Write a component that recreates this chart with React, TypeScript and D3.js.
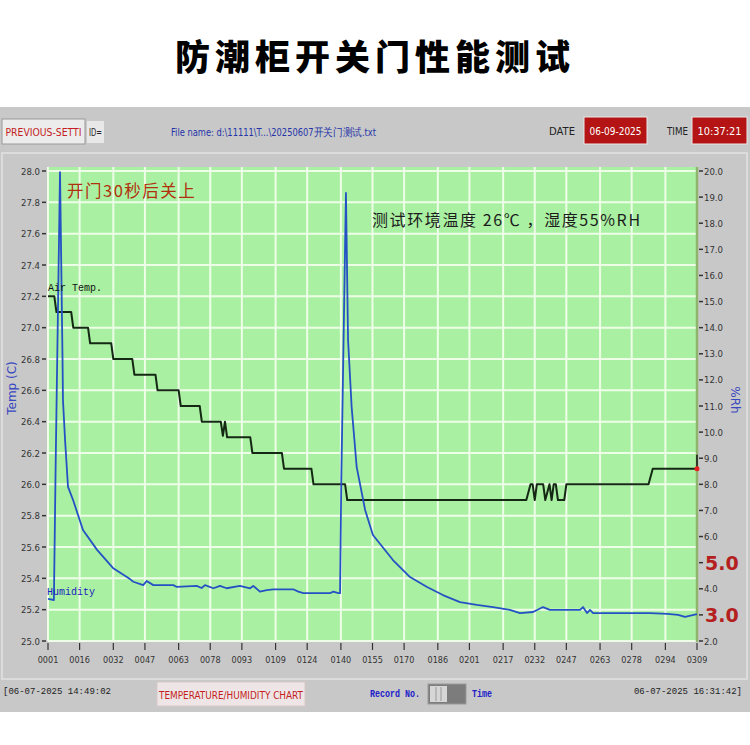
import React from "react";
import * as d3 from "d3";

// ---------- data ----------
const title = "防潮柜开关门性能测试";
const xTickRecords = [1, 16, 32, 47, 63, 78, 93, 109, 124, 140, 155, 170, 186, 201, 217, 232, 247, 263, 278, 294, 309];
const leftTicks = [25.0, 25.2, 25.4, 25.6, 25.8, 26.0, 26.2, 26.4, 26.6, 26.8, 27.0, 27.2, 27.4, 27.6, 27.8, 28.0];
const rightTicks = [2, 3, 4, 5, 6, 7, 8, 9, 10, 11, 12, 13, 14, 15, 16, 17, 18, 19, 20];
const rightHighlight = [5, 3];

// Air temperature (°C): record no. / value
const tempRecords = [1, 4, 5, 12, 13, 20, 21, 31, 32, 41, 42, 52, 53, 63, 64, 73, 74, 83, 84, 85, 86, 97, 98, 112, 113, 126, 127, 142, 143, 228, 230, 231, 232, 233, 236, 237, 239, 240, 241, 242, 243, 246, 247, 286, 288, 309];
const tempValues = [27.2, 27.2, 27.1, 27.1, 27.0, 27.0, 26.9, 26.9, 26.8, 26.8, 26.7, 26.7, 26.6, 26.6, 26.5, 26.5, 26.4, 26.4, 26.31, 26.4, 26.3, 26.3, 26.2, 26.2, 26.1, 26.1, 26.0, 26.0, 25.9, 25.9, 26.0, 26.0, 25.9, 26.0, 26.0, 25.9, 26.0, 25.9, 26.0, 26.0, 25.9, 25.9, 26.0, 26.0, 26.1, 26.1];

// Humidity (%RH): record no. / value
const humRecords = [1, 3.8, 4.6, 6.7, 7.9, 8.1, 9.1, 10.5, 12.9, 17.6, 24.3, 31.8, 39.9, 41.5, 46.2, 47.8, 51, 60.5, 62.1, 71.6, 73.9, 75.5, 79.5, 82.6, 85.8, 92.1, 96.9, 98.4, 101.6, 104.8, 107.9, 117.4, 119.8, 122.2, 134.8, 136.4, 138.8, 139.6, 140.2, 142.4, 143.4, 145.1, 147.5, 151.5, 155.2, 164.7, 172.8, 180.9, 188.4, 196.5, 204.5, 212.2, 220.2, 225, 231.2, 235.9, 239.2, 253.5, 254.9, 256.8, 258.2, 259.7, 286.7, 295, 300, 303.3, 309];
const humValues = [3.61, 3.57, 8.55, 19.96, 12.76, 11.23, 9.7, 7.9, 7.4, 6.25, 5.49, 4.8, 4.37, 4.27, 4.14, 4.3, 4.14, 4.14, 4.07, 4.11, 4.03, 4.14, 4.02, 4.11, 4.02, 4.11, 4.02, 4.11, 3.89, 3.95, 3.98, 3.98, 3.89, 3.83, 3.83, 3.89, 3.83, 3.83, 8.2, 19.16, 13.53, 10.96, 8.66, 7.02, 6.06, 5.1, 4.45, 4.07, 3.76, 3.49, 3.38, 3.3, 3.19, 3.07, 3.11, 3.3, 3.19, 3.19, 3.3, 3.07, 3.19, 3.07, 3.07, 3.04, 3.0, 2.92, 3.03];

// ---------- layout ----------
const X0 = 48, X1 = 697, YT = 171, YB = 641;
const condensed = "'DejaVu Sans Condensed', 'Liberation Sans Narrow', 'Arial Narrow', 'DejaVu Sans', sans-serif";
const mono = "'Liberation Mono', 'DejaVu Sans Mono', monospace";
const cjk = "'Noto Sans CJK SC', 'Noto Sans', sans-serif";

export default function App() {
  const x = d3.scaleLinear().domain([1, 309]).range([X0, X1]);
  const yL = d3.scaleLinear().domain([25, 28]).range([YB, YT]);
  const yR = d3.scaleLinear().domain([2, 20]).range([YB, YT]);

  const tempLine = d3.line<number>().x((_, i) => x(tempRecords[i])).y((v) => yL(v))(tempValues) || "";
  const humLine = d3.line<number>().x((_, i) => x(humRecords[i])).y((v) => yR(v))(humValues) || "";

  const lastT = tempValues[tempValues.length - 1];

  return (
    <svg width={750} height={745} style={{ position: "absolute", left: 0, top: 0, background: "#fff" }}>
      {/* title */}
      <text x={375} y={70} textAnchor="middle" fontFamily={cjk} fontWeight={900} fontSize={35} letterSpacing={5} fill="#000">{title}</text>

      {/* panel */}
      <rect x={0} y={107} width={750} height={605} fill="#c8c8c8" />
      <rect x={2} y={153} width={745} height={526} fill="none" stroke="#e2e2e2" strokeWidth={1.5} />

      {/* top bar */}
      <rect x={2} y={119} width={83} height={25} fill="#ececec" stroke="#9a9a9a" />
      <text x={43.5} y={135.5} textAnchor="middle" fontFamily={condensed} fontSize={11} fill="#c41e1e" textLength={76} lengthAdjust="spacingAndGlyphs">PREVIOUS-SETTI</text>
      <rect x={87} y={121} width={17} height={22} fill="#e8e8e8" />
      <text x={89} y={135.5} fontFamily={condensed} fontSize={11} fill="#222" textLength={13} lengthAdjust="spacingAndGlyphs">ID=</text>
      <text x={171} y={135.5} fontFamily={condensed} fontSize={10.5} fill="#2434a8" textLength={205} lengthAdjust="spacingAndGlyphs">File name: d:\11111\T...\20250607开关门测试.txt</text>
      <text x={549} y={135} fontFamily={condensed} fontSize={11} fill="#222" textLength={26} lengthAdjust="spacingAndGlyphs">DATE</text>
      <rect x={584} y={117} width={63} height={27} fill="#b41414" stroke="#e8e8e8" />
      <text x={615.5} y={135} textAnchor="middle" fontFamily={condensed} fontSize={11} fill="#fff" textLength={52} lengthAdjust="spacingAndGlyphs">06-09-2025</text>
      <text x={667} y={135} fontFamily={condensed} fontSize={11} fill="#222" textLength={21} lengthAdjust="spacingAndGlyphs">TIME</text>
      <rect x={692} y={117} width={55} height={27} fill="#b41414" stroke="#e8e8e8" />
      <text x={719.5} y={135} textAnchor="middle" fontFamily={condensed} fontSize={11} fill="#fff" textLength={44} lengthAdjust="spacingAndGlyphs">10:37:21</text>

      {/* plot background */}
      <rect x={X0} y={167} width={X1 - X0} height={YB - 167 + 1} fill="#aaf0a2" />
      {leftTicks.map((t) => (
        <line key={"hg" + t} x1={X0} x2={X1} y1={yL(t)} y2={yL(t)} stroke="#eefde8" strokeWidth={2} />
      ))}
      {xTickRecords.map((r) => (
        <line key={"vg" + r} x1={x(r)} x2={x(r)} y1={167} y2={YB} stroke="#eefde8" strokeWidth={2} />
      ))}
      <line x1={X1} x2={X1} y1={167} y2={YB + 1} stroke="#8fb46c" strokeWidth={2.5} />

      {/* left axis */}
      {leftTicks.map((t) => (
        <g key={"lt" + t}>
          <line x1={42} x2={46} y1={yL(t)} y2={yL(t)} stroke="#333" strokeWidth={1.5} />
          <text x={40} y={yL(t) + 3.5} textAnchor="end" fontFamily={condensed} fontSize={9.5} fill="#333">{t.toFixed(1)}</text>
        </g>
      ))}
      <text transform={`translate(16,388) rotate(-90)`} textAnchor="middle" fontFamily="'DejaVu Sans', sans-serif" fontSize={12} fill="#3a48c0">Temp (C)</text>

      {/* right axis */}
      {rightTicks.map((t) => {
        const hl = rightHighlight.includes(t);
        return (
          <g key={"rt" + t}>
            <line x1={699} x2={703} y1={yR(t)} y2={yR(t)} stroke="#333" strokeWidth={1.5} />
            {hl ? (
              <text x={705} y={yR(t) + 7} fontFamily="'DejaVu Sans', sans-serif" fontWeight={700} fontSize={19} fill="#b42020">{t.toFixed(1)}</text>
            ) : (
              <text x={704} y={yR(t) + 3.5} fontFamily={condensed} fontSize={9.5} fill="#333">{t.toFixed(1)}</text>
            )}
          </g>
        );
      })}
      <text transform={`translate(731,400) rotate(90)`} textAnchor="middle" fontFamily="'DejaVu Sans', sans-serif" fontSize={12} fill="#3a48c0">%Rh</text>

      {/* x axis */}
      {xTickRecords.map((r) => (
        <g key={"xt" + r}>
          <line x1={x(r)} x2={x(r)} y1={YB + 2} y2={YB + 9} stroke="#333" strokeWidth={1.2} />
          <text x={x(r)} y={YB + 22} textAnchor="middle" fontFamily={condensed} fontSize={9} fill="#333">{String(r).padStart(4, "0")}</text>
        </g>
      ))}

      {/* series */}
      <path d={tempLine} fill="none" stroke="#142814" strokeWidth={2} strokeLinejoin="round" />
      <path d={humLine} fill="none" stroke="#2452c4" strokeWidth={1.8} strokeLinejoin="round" />
      <line x1={X1} x2={X1} y1={yL(lastT) - 14} y2={yL(lastT)} stroke="#111" strokeWidth={1.5} />
      <circle cx={X1} cy={yL(lastT)} r={2.5} fill="#e82020" />

      {/* series labels */}
      <text x={48} y={291} fontFamily={mono} fontSize={10} fill="#111">Air Temp.</text>
      <text x={47} y={595} fontFamily={mono} fontSize={10} fill="#2020c0">Humidity</text>

      {/* annotations */}
      <text x={67} y={197} fontFamily={cjk} fontSize={16.5} letterSpacing={1.5} fill="#b0300c">开门30秒后关上</text>
      <text x={372} y={226} fontFamily={cjk} fontSize={16} letterSpacing={1.6} fill="#1c1c1c">测试环境温度 26℃ ，湿度55%RH</text>

      {/* bottom bar */}
      <text x={3} y={694} fontFamily={mono} fontSize={9} fill="#222">[06-07-2025 14:49:02</text>
      <rect x={157} y={682} width={148} height={24} fill="#eee6e6" stroke="#d8c8c8" />
      <text x={231} y={699} textAnchor="middle" fontFamily={condensed} fontSize={11} fill="#c41e1e" textLength={144} lengthAdjust="spacingAndGlyphs">TEMPERATURE/HUMIDITY CHART</text>
      <text x={370} y={697} fontFamily={mono} fontWeight={700} fontSize={10} fill="#2020c8" textLength={50} lengthAdjust="spacingAndGlyphs">Record No.</text>
      <rect x={428} y={684} width={38} height={20} fill="#7c7c7c" stroke="#999" />
      <rect x={430} y={686} width={17} height={16} fill="#d6d6d6" />
      <line x1={436} x2={436} y1={687} y2={701} stroke="#999" />
      <line x1={441} x2={441} y1={687} y2={701} stroke="#999" />
      <text x={472} y={697} fontFamily={mono} fontWeight={700} fontSize={10} fill="#2020c8" textLength={20} lengthAdjust="spacingAndGlyphs">Time</text>
      <text x={742} y={694} textAnchor="end" fontFamily={mono} fontSize={9} fill="#222">06-07-2025 16:31:42]</text>
    </svg>
  );
}
